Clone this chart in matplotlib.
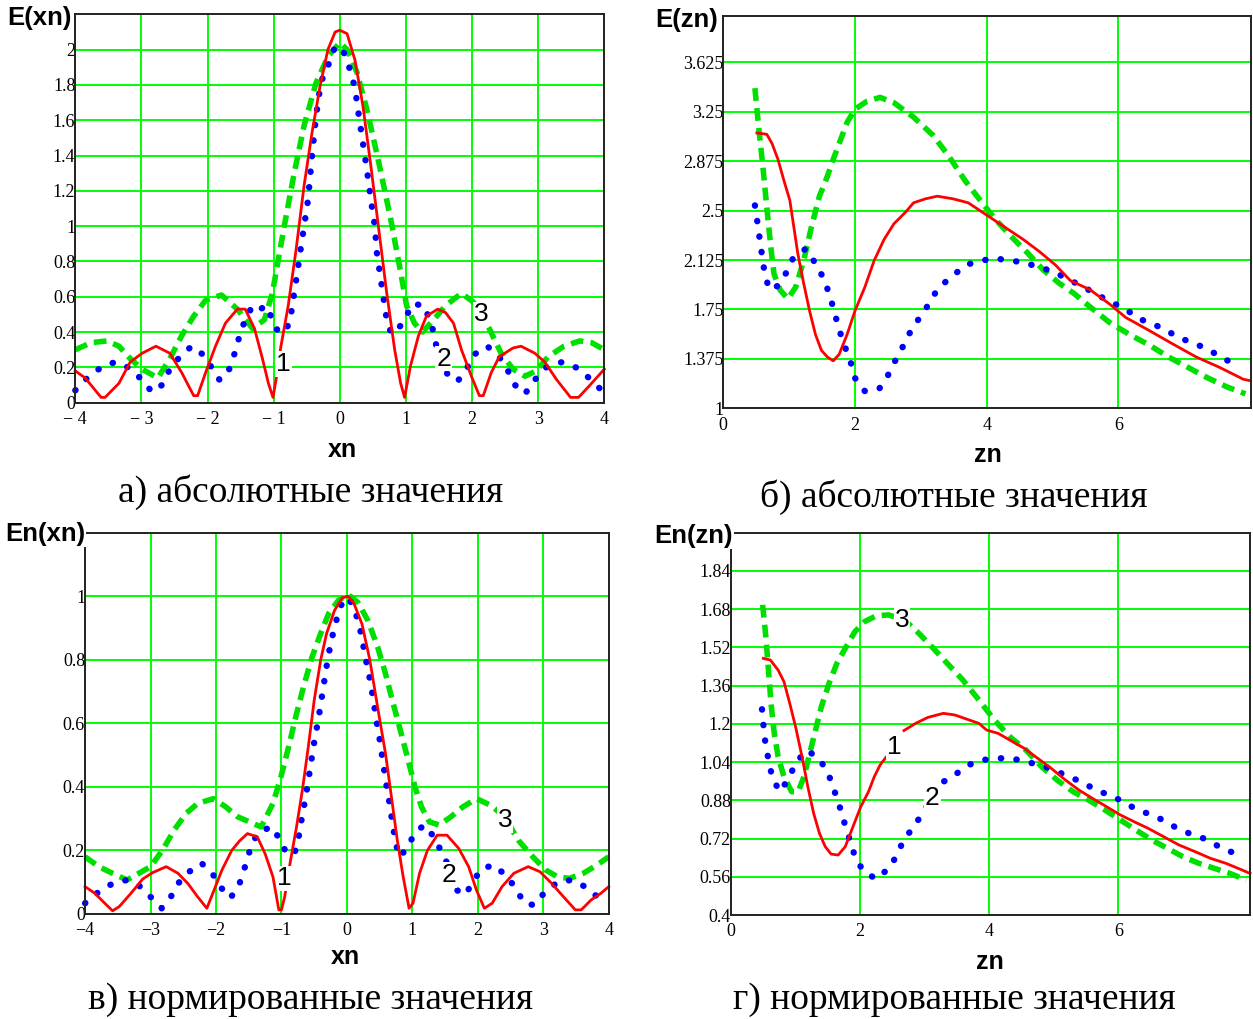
import matplotlib
matplotlib.use("Agg")
import matplotlib.pyplot as plt

W, H = 1253, 1019

# ---------------- data: panel a (E(xn)) ----------------
xa_1 = [-4, -3.85, -3.61, -3.55, -3.34, -3.17, -2.99, -2.78, -2.57, -2.39, -2.21, -2.15, -2.03,
        -1.88, -1.73, -1.55, -1.43, -1.29, -1.17, -1.08, -1.01, -0.96, -0.89, -0.78, -0.66, -0.54,
        -0.42, -0.30, -0.18, -0.07, 0, 0.11, 0.23, 0.35, 0.47, 0.59, 0.71, 0.83, 0.92, 0.98, 1.07,
        1.19, 1.31, 1.48, 1.60, 1.72, 1.84, 1.99, 2.11, 2.17, 2.29, 2.41, 2.62, 2.74, 2.95, 3.10,
        3.28, 3.49, 3.61, 3.76, 3.88, 4.0]
ya_1 = [0.18, 0.14, 0.03, 0.03, 0.11, 0.23, 0.28, 0.32, 0.28, 0.17, 0.04, 0.04, 0.17,
        0.32, 0.45, 0.53, 0.53, 0.42, 0.25, 0.11, 0.03, 0.14, 0.32, 0.55, 0.87, 1.23,
        1.53, 1.79, 2.0, 2.1, 2.11, 2.09, 1.94, 1.68, 1.34, 0.98, 0.62, 0.30, 0.11, 0.03, 0.21,
        0.38, 0.49, 0.53, 0.51, 0.45, 0.30, 0.15, 0.04, 0.04, 0.17, 0.26, 0.31, 0.32, 0.28, 0.23,
        0.13, 0.03, 0.03, 0.09, 0.14, 0.19]

xa_2 = [-4, -3.82, -3.61, -3.40, -3.20, -2.99, -2.84, -2.69, -2.57, -2.42, -2.24, -2.06, -1.94,
        -1.82, -1.70, -1.59, -1.50, -1.44, -1.32, -1.20, -1.11, -1.02, -0.93, -0.84, -0.75, -0.72,
        -0.69, -0.63, -0.60, -0.54, -0.48, -0.42, -0.36, -0.30, -0.24, -0.15, -0.08, 0.0, 0.08,
        0.16, 0.23, 0.29, 0.35, 0.41, 0.47, 0.53, 0.56, 0.62, 0.65, 0.71, 0.77, 0.83, 0.98, 1.10,
        1.28, 1.42, 1.48, 1.63, 1.78, 1.93, 2.02, 2.23, 2.41, 2.53, 2.65, 2.80, 2.95, 3.12, 3.36,
        3.57, 3.77, 3.96]
ya_2 = [0.07, 0.14, 0.20, 0.23, 0.20, 0.13, 0.06, 0.10, 0.19, 0.26, 0.32, 0.27, 0.20,
        0.13, 0.16, 0.28, 0.40, 0.46, 0.55, 0.53, 0.55, 0.47, 0.40, 0.40, 0.46, 0.55,
        0.62, 0.77, 0.85, 1.0, 1.15, 1.40, 1.62, 1.78, 1.87, 1.93, 2.01, 2.02, 1.97,
        1.88, 1.78, 1.62, 1.47, 1.32, 1.15, 1.0, 0.85, 0.70, 0.62, 0.47, 0.40, 0.39, 0.47, 0.56,
        0.55, 0.40, 0.28, 0.16, 0.12, 0.20, 0.27, 0.32, 0.26, 0.19, 0.10, 0.05, 0.13, 0.20, 0.23,
        0.20, 0.14, 0.07]

xa_3 = [-4, -3.76, -3.52, -3.34, -3.17, -2.99, -2.75, -2.57, -2.39, -2.21, -2.03, -1.79, -1.55,
        -1.32, -1.14, -1.02, -0.93, -0.84, -0.69, -0.54, -0.36, -0.18, 0, 0.11, 0.26, 0.41, 0.59,
        0.77, 0.92, 1.01, 1.13, 1.25, 1.42, 1.60, 1.84, 2.02, 2.26, 2.44, 2.62, 2.80, 2.97, 3.15,
        3.39, 3.63, 3.81, 4.0]
ya_3 = [0.30, 0.34, 0.35, 0.32, 0.25, 0.19, 0.14, 0.25, 0.38, 0.49, 0.58, 0.61, 0.53,
        0.42, 0.47, 0.62, 0.81, 1.0, 1.30, 1.57, 1.81, 1.96, 2.04, 2.0, 1.87, 1.66, 1.36,
        1.04, 0.74, 0.55, 0.45, 0.40, 0.47, 0.55, 0.62, 0.57, 0.42, 0.28, 0.19, 0.15, 0.18, 0.26,
        0.32, 0.35, 0.34, 0.30]

# ---------------- data: panel b (E(zn)) ----------------
xb_1 = [0.51, 0.66, 0.74, 0.83, 0.92, 1.01, 1.07, 1.13, 1.22, 1.31, 1.40, 1.49, 1.58, 1.67, 1.76,
        1.88, 2.0, 2.15, 2.29, 2.44, 2.59, 2.77, 2.89, 3.07, 3.25, 3.49, 3.72, 3.96, 4.26, 4.56,
        4.80, 5.04, 5.27, 5.57, 5.87, 6.11, 6.47, 6.82, 7.18, 7.54, 7.90, 8.0]
yb_1 = [3.09, 3.08, 3.01, 2.89, 2.73, 2.58, 2.38, 2.18, 1.95, 1.74, 1.56, 1.44, 1.39, 1.36, 1.41,
        1.56, 1.74, 1.92, 2.12, 2.28, 2.40, 2.49, 2.56, 2.59, 2.61, 2.59, 2.56, 2.48, 2.38, 2.28,
        2.19, 2.09, 1.97, 1.90, 1.79, 1.69, 1.59, 1.49, 1.39, 1.31, 1.22, 1.21]

xb_2 = [0.48, 0.51, 0.54, 0.57, 0.60, 0.64, 0.70, 0.83, 0.97, 1.06, 1.25, 1.40, 1.53, 1.60, 1.66,
        1.72, 1.79, 1.86, 1.94, 2.0, 2.15, 2.37, 2.50, 2.61, 2.74, 2.84, 2.97, 3.12, 3.26, 3.47,
        3.69, 3.92, 4.12, 4.34, 4.56, 4.79, 5.01, 5.23, 5.44, 5.65, 5.87, 6.09, 6.31, 6.53, 6.73,
        6.95, 7.17, 7.39, 7.61, 7.81]
yb_2 = [2.54, 2.44, 2.33, 2.23, 2.11, 2.00, 1.90, 1.93, 2.04, 2.14, 2.21, 2.10, 1.98, 1.88, 1.78,
        1.67, 1.55, 1.45, 1.34, 1.23, 1.13, 1.15, 1.25, 1.36, 1.48, 1.58, 1.68, 1.79, 1.91, 2.00,
        2.09, 2.12, 2.14, 2.12, 2.11, 2.07, 2.04, 1.98, 1.93, 1.87, 1.81, 1.76, 1.68, 1.64, 1.59,
        1.53, 1.49, 1.44, 1.37, 1.34]

xb_3 = [0.48, 0.54, 0.60, 0.66, 0.72, 0.77, 0.86, 0.98, 1.10, 1.22, 1.34, 1.46, 1.58, 1.67, 1.76,
        1.88, 2.0, 2.18, 2.38, 2.59, 2.89, 3.19, 3.43, 3.67, 3.90, 4.14, 4.38, 4.62, 4.86, 5.10,
        5.33, 5.57, 5.87, 6.17, 6.47, 6.76, 7.06, 7.36, 7.66, 7.93]
yb_3 = [3.43, 3.12, 2.84, 2.53, 2.23, 2.02, 1.90, 1.83, 1.92, 2.12, 2.38, 2.61, 2.76, 2.89, 3.01,
        3.17, 3.27, 3.33, 3.36, 3.32, 3.21, 3.07, 2.91, 2.73, 2.58, 2.43, 2.30, 2.18, 2.05, 1.95,
        1.87, 1.77, 1.65, 1.56, 1.48, 1.39, 1.31, 1.23, 1.16, 1.11]

# ---------------- data: panel c (En(xn)) ----------------
xc_1 = [-4.0, -3.85, -3.70, -3.58, -3.48, -3.30, -3.12, -2.97, -2.76, -2.58, -2.43, -2.28, -2.14,
        -2.03, -1.91, -1.76, -1.64, -1.52, -1.37, -1.25, -1.13, -1.04, -1.0, -0.95, -0.86, -0.77,
        -0.68, -0.59, -0.50, -0.40, -0.31, -0.19, -0.07, 0.02, 0.11, 0.23, 0.35, 0.47, 0.59, 0.68,
        0.77, 0.86, 0.95, 1.01, 1.11, 1.23, 1.38, 1.53, 1.71, 1.86, 1.98, 2.10, 2.22, 2.37, 2.55,
        2.77, 2.95, 3.13, 3.31, 3.49, 3.58, 3.73, 3.88, 4.0]
yc_1 = [0.086, 0.065, 0.034, 0.01, 0.023, 0.065, 0.11, 0.13, 0.149, 0.128, 0.096, 0.054, 0.018,
        0.075, 0.138, 0.20, 0.23, 0.253, 0.243, 0.19, 0.117, 0.013, 0.013, 0.055, 0.17, 0.274,
        0.39, 0.526, 0.672, 0.80, 0.883, 0.955, 0.995, 1.0, 0.976, 0.913, 0.80, 0.65, 0.505, 0.369,
        0.232, 0.117, 0.018, 0.034, 0.128, 0.20, 0.248, 0.248, 0.206, 0.149, 0.075, 0.018, 0.034,
        0.086, 0.128, 0.149, 0.133, 0.096, 0.054, 0.013, 0.013, 0.044, 0.065, 0.086]

xc_2 = [-4, -3.79, -3.58, -3.36, -3.18, -3.0, -2.83, -2.69, -2.58, -2.41, -2.22, -2.04, -1.91,
        -1.78, -1.65, -1.58, -1.52, -1.45, -1.34, -1.14, -1.02, -0.92, -0.80, -0.74, -0.69, -0.62,
        -0.56, -0.50, -0.43, -0.37, -0.31, -0.25, -0.18, -0.12, -0.06, 0.0, 0.08, 0.16, 0.22, 0.29,
        0.35, 0.40, 0.45, 0.50, 0.55, 0.60, 0.65, 0.70, 0.75, 0.80, 0.92, 1.03, 1.18, 1.35, 1.44,
        1.56, 1.68, 1.81, 1.92, 2.06, 2.25, 2.45, 2.58, 2.71, 2.86, 3.03, 3.22, 3.43, 3.64, 3.85]
yc_2 = [0.034, 0.07, 0.096, 0.107, 0.09, 0.054, 0.018, 0.054, 0.096, 0.133, 0.16, 0.122, 0.08,
        0.05, 0.09, 0.133, 0.175, 0.222, 0.26, 0.274, 0.232, 0.19, 0.19, 0.238, 0.30, 0.38,
        0.46, 0.54, 0.62, 0.70, 0.78, 0.85, 0.91, 0.955, 0.985, 0.997, 0.976, 0.93, 0.88, 0.80,
        0.74, 0.68, 0.61, 0.55, 0.48, 0.41, 0.35, 0.28, 0.22, 0.18, 0.206, 0.253, 0.28, 0.238, 0.196,
        0.149, 0.075, 0.06, 0.10, 0.143, 0.154, 0.117, 0.08, 0.034, 0.028, 0.07, 0.10, 0.107, 0.086, 0.05]

xc_3 = [-4, -3.79, -3.58, -3.36, -3.18, -3.0, -2.82, -2.64, -2.46, -2.28, -2.04, -1.85, -1.67,
        -1.49, -1.31, -1.13, -1.01, -0.89, -0.77, -0.65, -0.53, -0.40, -0.28, -0.13, 0.02, 0.17,
        0.32, 0.47, 0.59, 0.71, 0.83, 0.95, 1.04, 1.14, 1.26, 1.41, 1.59, 1.77, 1.98, 2.20, 2.41,
        2.62, 2.84, 3.04, 3.22, 3.40, 3.61, 3.82, 4.0]
yc_3 = [0.18, 0.149, 0.128, 0.107, 0.128, 0.149, 0.20, 0.264, 0.316, 0.348, 0.363, 0.337, 0.306,
        0.29, 0.274, 0.348, 0.43, 0.526, 0.63, 0.725, 0.81, 0.883, 0.945, 0.987, 1.005, 0.98,
        0.924, 0.84, 0.756, 0.66, 0.568, 0.473, 0.40, 0.337, 0.29, 0.28, 0.306, 0.337, 0.363, 0.342,
        0.306, 0.232, 0.18, 0.138, 0.117, 0.112, 0.128, 0.154, 0.18]

# ---------------- data: panel d (En(zn)) ----------------
xd_1a = [0.50, 0.61, 0.73, 0.82, 0.91, 1.00, 1.10, 1.19, 1.28, 1.37, 1.46, 1.55, 1.66, 1.77, 1.89,
         2.01, 2.13, 2.22, 2.31, 2.41]
yd_1a = [1.474, 1.467, 1.425, 1.377, 1.286, 1.188, 1.063, 0.937, 0.826, 0.742, 0.686, 0.655, 0.651,
         0.686, 0.77, 0.853, 0.916, 0.979, 1.028, 1.063]
xd_1b = [2.68, 2.86, 3.05, 3.29, 3.47, 3.65, 3.84, 3.96, 4.14, 4.32, 4.54, 4.75, 4.96, 5.18, 5.39,
         5.60, 5.82, 6.03, 6.24, 6.46, 6.70, 6.94, 7.19, 7.43, 7.67, 7.92, 8.04]
yd_1b = [1.172, 1.202, 1.227, 1.244, 1.237, 1.22, 1.202, 1.174, 1.16, 1.132, 1.098, 1.056, 1.014,
         0.965, 0.923, 0.888, 0.853, 0.819, 0.791, 0.763, 0.728, 0.693, 0.665, 0.637, 0.616, 0.588, 0.574]

xd_2 = [0.48, 0.50, 0.52, 0.55, 0.60, 0.64, 0.76, 0.90, 1.00, 1.17, 1.36, 1.50, 1.58, 1.65, 1.72,
        1.78, 1.85, 1.92, 2.04, 2.24, 2.45, 2.57, 2.67, 2.83, 2.97, 3.25, 3.48, 3.68, 3.91, 4.13,
        4.34, 4.56, 4.78, 5.01, 5.22, 5.43, 5.65, 5.86, 6.08, 6.29, 6.52, 6.74, 6.95, 7.17, 7.39,
        7.60, 7.81]
yd_2 = [1.261, 1.202, 1.146, 1.09, 1.028, 0.972, 0.916, 0.975, 1.035, 1.09, 1.056, 0.997, 0.937,
        0.881, 0.823, 0.763, 0.707, 0.644, 0.588, 0.551, 0.595, 0.651, 0.711, 0.77, 0.826, 0.951,
        0.989, 1.028, 1.049, 1.056, 1.056, 1.042, 1.028, 1.007, 0.979, 0.958, 0.923, 0.902, 0.874,
        0.84, 0.819, 0.791, 0.756, 0.735, 0.714, 0.679, 0.658]

xd_3 = [0.49, 0.54, 0.58, 0.62, 0.67, 0.73, 0.82, 0.94, 1.04, 1.13, 1.22, 1.31, 1.40, 1.52, 1.64,
        1.77, 1.92, 2.07, 2.25, 2.44, 2.68, 2.86, 3.11, 3.35, 3.59, 3.84, 4.08, 4.32, 4.57, 4.81,
        5.05, 5.30, 5.54, 5.79, 6.03, 6.27, 6.52, 6.76, 7.00, 7.25, 7.49, 7.73, 7.98]
yd_3 = [1.698, 1.565, 1.425, 1.286, 1.16, 1.063, 0.979, 0.916, 0.916, 0.979, 1.077, 1.174, 1.272,
        1.37, 1.453, 1.516, 1.586, 1.628, 1.652, 1.656, 1.635, 1.593, 1.523, 1.453, 1.384, 1.30,
        1.216, 1.146, 1.09, 1.021, 0.965, 0.916, 0.881, 0.84, 0.798, 0.756, 0.714, 0.679, 0.644,
        0.616, 0.595, 0.574, 0.546]

# ---------------- ticks ----------------
xt_a = [-4, -3, -2, -1, 0, 1, 2, 3, 4]
xtl_a = ["\u2212 4", "\u2212 3", "\u2212 2", "\u2212 1", "0", "1", "2", "3", "4"]
yt_a = [0, 0.2, 0.4, 0.6, 0.8, 1.0, 1.2, 1.4, 1.6, 1.8, 2.0]
ytl_a = ["0", "0.2", "0.4", "0.6", "0.8", "1", "1.2", "1.4", "1.6", "1.8", "2"]
xt_b = [0, 2, 4, 6]
xtl_b = ["0", "2", "4", "6"]
yt_b = [1, 1.375, 1.75, 2.125, 2.5, 2.875, 3.25, 3.625]
ytl_b = ["1", "1.375", "1.75", "2.125", "2.5", "2.875", "3.25", "3.625"]
xt_c = [-4, -3, -2, -1, 0, 1, 2, 3, 4]
xtl_c = ["\u22124", "\u22123", "\u22122", "\u22121", "0", "1", "2", "3", "4"]
yt_c = [0, 0.2, 0.4, 0.6, 0.8, 1.0]
ytl_c = ["0", "0.2", "0.4", "0.6", "0.8", "1"]
xt_d = [0, 2, 4, 6]
xtl_d = ["0", "2", "4", "6"]
yt_d = [0.4, 0.56, 0.72, 0.88, 1.04, 1.2, 1.36, 1.52, 1.68, 1.84]
ytl_d = ["0.4", "0.56", "0.72", "0.88", "1.04", "1.2", "1.36", "1.52", "1.68", "1.84"]

captions = ["а) абсолютные значения", "б) абсолютные значения",
            "в) нормированные значения", "г) нормированные значения"]

RED = "#ff0000"
BLUE = "#0000ff"
GREEN = "#00e000"
GRID = "#00ff00"

fig = plt.figure(figsize=(W / 100, H / 100), dpi=100)


def make_ax(l, t, r, b):
    return fig.add_axes([l / W, 1 - b / H, (r - l) / W, (b - t) / H])


def style(ax, xlim, ylim, xt, xtl, yt, ytl, xlab, ylab, ylab_pos, xlab_pos):
    ax.set_xlim(*xlim)
    ax.set_ylim(*ylim)
    ax.set_xticks(xt)
    ax.set_xticklabels(xtl, fontfamily="Liberation Serif", fontsize=13)
    ax.set_yticks(yt)
    ax.set_yticklabels(ytl, fontfamily="Liberation Serif", fontsize=13)
    ax.tick_params(length=0, pad=0, axis="y")
    ax.tick_params(length=0, pad=6, axis="x")
    ax.grid(True, color=GRID, lw=1.4)
    ax.set_axisbelow(True)
    for s in ax.spines.values():
        s.set_color("#222222")
        s.set_linewidth(1.4)
        s.set_zorder(6)
    fig.text(ylab_pos[0] / W, 1 - ylab_pos[1] / H, ylab, fontfamily="Liberation Sans",
             fontweight="bold", fontsize=18.5, ha="right", va="center", zorder=10,
             bbox=dict(facecolor="white", edgecolor="none", pad=1))
    fig.text(xlab_pos[0] / W, 1 - xlab_pos[1] / H, xlab, fontfamily="Liberation Sans",
             fontweight="bold", fontsize=18, ha="center", va="center")


def red(ax, x, y):
    ax.plot(x, y, color=RED, lw=2.0, zorder=4, clip_on=False)


def blue(ax, x, y):
    ax.plot(x, y, color=BLUE, lw=4.6, linestyle=(0, (0.05, 2.4)), dash_capstyle="round",
            zorder=3, clip_on=False)


def green(ax, x, y):
    ax.plot(x, y, color=GREEN, lw=4.0, linestyle=(0, (2.3, 1.3)), dash_capstyle="butt",
            zorder=2, clip_on=False)


def lab(ax, x, y, s):
    ax.text(x, y, s, fontfamily="Liberation Sans", fontsize=19, ha="center", va="center",
            zorder=8, bbox=dict(facecolor="white", edgecolor="none", pad=0.5))


# panel a
axa = make_ax(75.3, 14.3, 604.3, 402.7)
style(axa, (-3.97, 3.96), (0, 2.2), xt_a, xtl_a, yt_a, ytl_a, "xn", "E(xn)", (72, 18), (342, 450))
green(axa, xa_3, ya_3)
blue(axa, xa_2, ya_2)
red(axa, xa_1, ya_1)
lab(axa, -0.85, 0.22, "1")
lab(axa, 1.57, 0.25, "2")
lab(axa, 2.14, 0.50, "3")

# panel b
axb = make_ax(723.3, 15.7, 1250.7, 408.3)
style(axb, (0, 8.01), (1, 3.98), xt_b, xtl_b, yt_b, ytl_b, "zn", "E(zn)", (718, 20), (988, 455))
green(axb, xb_3, yb_3)
blue(axb, xb_2, yb_2)
red(axb, xb_1, yb_1)

# panel c
axc = make_ax(85.1, 532.7, 608.7, 914)
style(axc, (-3.98, 3.99), (0, 1.2), xt_c, xtl_c, yt_c, ytl_c, "xn", "En(xn)", (85, 534), (345, 957))
green(axc, xc_3, yc_3)
blue(axc, xc_2, yc_2)
red(axc, xc_1, yc_1)
lab(axc, -0.95, 0.112, "1")
lab(axc, 1.56, 0.122, "2")
lab(axc, 2.42, 0.295, "3")

# panel d
axd = make_ax(731, 532.7, 1250, 915)
style(axd, (0, 8.04), (0.4, 2.0), xt_d, xtl_d, yt_d, ytl_d, "zn", "En(zn)", (733, 536), (990, 962))
green(axd, xd_3, yd_3)
blue(axd, xd_2, yd_2)
red(axd, xd_1a, yd_1a)
red(axd, xd_1b, yd_1b)
lab(axd, 2.53, 1.105, "1")
lab(axd, 3.12, 0.888, "2")
lab(axd, 2.65, 1.635, "3")

for s, (cx, cy) in zip(captions, [(311, 492), (954, 497), (311, 1000), (954, 1000)]):
    fig.text(cx / W, 1 - cy / H, s, fontfamily="Liberation Serif", fontsize=27,
             ha="center", va="center")

fig.savefig("out.png", dpi=100, facecolor="white")
